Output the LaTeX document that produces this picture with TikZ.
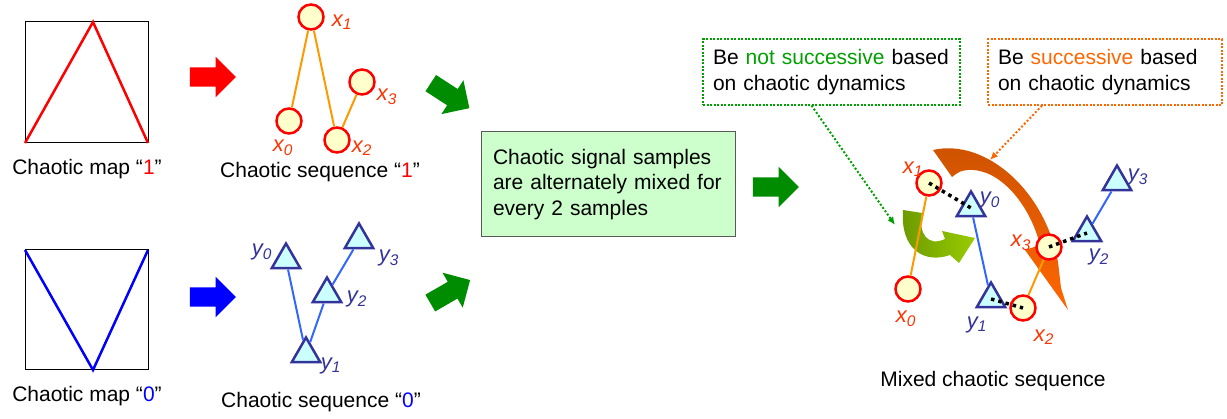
\documentclass[tikz,border=0pt]{standalone}
\usepackage{fontspec}
\setmainfont{Liberation Sans}
\usetikzlibrary{shapes.geometric, shapes.arrows, arrows.meta, positioning}

\definecolor{sampfill}{HTML}{FFFFCC}
\definecolor{tricyan}{HTML}{CCFFFF}
\definecolor{trinavy}{HTML}{333399}
\definecolor{xtext}{HTML}{FF3300}
\definecolor{xline}{HTML}{FF9900}
\definecolor{yline}{HTML}{3366FF}
\definecolor{mixgreen}{HTML}{008C00}
\definecolor{notgreen}{HTML}{00A000}
\definecolor{succorange}{HTML}{FF6600}
\definecolor{boxgreen}{HTML}{CCFFCC}
\definecolor{olivedark}{HTML}{6B9900}
\definecolor{olivelight}{HTML}{99CC00}

\begin{document}
\begin{tikzpicture}[
            x=1pt, y=-1pt,
            txt/.style = {font=\fontsize{21}{25.5}\selectfont, inner sep=0pt},
            xsamp/.style = {circle, draw=red, fill=sampfill, line width=2.5pt, minimum size=25pt, inner sep=0pt},
            ysamp/.style = {regular polygon, regular polygon sides=3, draw=trinavy, fill=tricyan, line width=2.5pt, minimum size=33pt, inner sep=0pt},
            xtag/.style = {text=xtext, font=\fontsize{22}{24}\selectfont\itshape, inner sep=0pt},
            ytag/.style = {text=trinavy, font=\fontsize{22}{24}\selectfont\itshape, inner sep=0pt},
            xlink/.style = {draw=xline, line width=2pt},
            ylink/.style = {draw=yline, line width=2pt},
            mixlink/.style = {draw=black, line width=3.5pt, dash pattern={on 3.5pt off 4pt}},
            fatarrow/.style = {single arrow, draw=none, inner xsep=0pt, inner ysep=9.5pt, minimum height=46pt, single arrow head extend=10.5pt},
            notebox/.style = {txt, draw, line width=2pt, dash pattern={on 2pt off 1.5pt}, inner sep=10pt, align=left},
        ]
            \useasboundingbox (0,0) rectangle (1227,419);

            % Chaotic maps
            \draw[line width=1pt] (25,22) rectangle (148,143);
            \draw[red, line width=2.5pt] (25,143) -- (93,22) -- (148,143);
            \node[txt] (map1) at (87,169) {Chaotic map “\textcolor{red}{1}”};

            \draw[line width=1pt] (25,250) rectangle (148,370);
            \draw[blue, line width=2.5pt] (25,250) -- (93,370) -- (148,250);
            \node[txt] (map0) at (87,396) {Chaotic map “\textcolor{blue}{0}”};

            % Block arrows
            \node[fatarrow, fill=red] (arr1) at (208,77) {};
            \node[fatarrow, fill=blue] (arr0) at (208,297) {};
            \node[fatarrow, fill=mixgreen, rotate=-33] (arrmix1) at (446,93) {};
            \node[fatarrow, fill=mixgreen, rotate=30] (arrmix0) at (446,294) {};
            \node[fatarrow, fill=mixgreen] (arrout) at (771,187) {};

            % Chaotic sequence "1"
            \node[xsamp] (x0) at (289,121) {};
            \node[xsamp] (x1) at (311,17) {};
            \node[xsamp] (x2) at (337,140) {};
            \node[xsamp] (x3) at (362,82) {};
            \draw[xlink] (x0) -- (x1);
            \draw[xlink] (x1) -- (x2);
            \draw[xlink] (x2) -- (x3);
            \node[xtag] (lx0) at (283,148) {x\textsubscript{0}};
            \node[xtag] (lx1) at (342,22) {x\textsubscript{1}};
            \node[xtag] (lx2) at (362,148) {x\textsubscript{2}};
            \node[xtag] (lx3) at (387,97) {x\textsubscript{3}};
            \node[txt] (seq1) at (320,172) {Chaotic sequence “\textcolor{red}{1}”};

            % Chaotic sequence "0"
            \node[ysamp] (y0) at (286,260) {};
            \node[ysamp] (y1) at (306,354) {};
            \node[ysamp] (y2) at (327,294) {};
            \node[ysamp] (y3) at (359,240) {};
            \draw[ylink] (y0) -- (y1);
            \draw[ylink] (y1) -- (y2);
            \draw[ylink] (y2) -- (y3);
            \node[ytag] (ly0) at (262,252) {y\textsubscript{0}};
            \node[ytag] (ly1) at (331,366) {y\textsubscript{1}};
            \node[ytag] (ly2) at (357,299) {y\textsubscript{2}};
            \node[ytag] (ly3) at (389,258) {y\textsubscript{3}};
            \node[txt] (seq0) at (321,402) {Chaotic sequence “\textcolor{blue}{0}”};

            % Mixing rule
            \node[txt, draw=black!65, line width=1pt, fill=boxgreen, minimum width=254pt, minimum height=105pt,
                  text width=230pt, align=left] (mixbox) at (608,184.5)
                 {Chaotic signal samples\\are alternately mixed for\\every 2 samples};

            % Notes
            \node[notebox, draw=notgreen, minimum width=257pt, minimum height=62pt, text width=237pt] (notbox) at (831.5,72)
                 {Be \textcolor{notgreen}{not successive} based\\on chaotic dynamics};
            \node[notebox, draw=succorange, minimum width=234pt, minimum height=62pt, text width=214pt] (succbox) at (1105,72)
                 {Be \textcolor{succorange}{successive} based\\on chaotic dynamics};

            \coordinate (notend) at (895,225);
            \coordinate (succend) at (990,160);
            \draw[notgreen, line width=2pt, dash pattern={on 2pt off 2pt}, -{Latex[length=8pt, width=7pt]}]
                 ([xshift=-20pt]notbox.south) -- (notend);
            \draw[succorange, line width=2pt, dash pattern={on 2pt off 2pt}, -{Latex[length=8pt, width=7pt]}]
                 ([xshift=-63pt]succbox.south) -- (succend);

            % Curved arrows of the mixed sequence
            \shade[left color=olivedark, right color=olivelight]
                 (903,210) .. controls (900,250) and (925,264) .. (950,255)
                 -- (959,263) -- (975,238) -- (942,231) -- (945,239)
                 .. controls (928,247) and (918,234) .. (922,213) -- cycle;
            \shade[top color=succorange!80!black, bottom color=succorange]
                 (933,150) .. controls (985,138) and (1045,190) .. (1058,262)
                 -- (1061,288) -- (1068,310) -- (1025,250) -- (1040,245)
                 .. controls (1030,205) and (1000,168) .. (968,170)
                 .. controls (960,171) .. (952,177) -- cycle;

            % Mixed chaotic sequence
            \node[xsamp] (mx1) at (929,183) {};
            \node[ysamp] (my0) at (971,208) {};
            \node[xsamp] (mx0) at (908,289) {};
            \node[ysamp] (my1) at (991,299) {};
            \node[xsamp] (mx2) at (1023,308) {};
            \node[xsamp] (mx3) at (1049,247) {};
            \node[ysamp] (my2) at (1087,233) {};
            \node[ysamp] (my3) at (1117,182) {};
            \draw[xlink] (mx0) -- (mx1);
            \draw[ylink] (my0) -- (my1);
            \draw[xlink] (mx2) -- (mx3);
            \draw[ylink] (my2) -- (my3);
            \draw[mixlink] (mx1.center) -- (my0.center);
            \draw[mixlink] (my1.center) -- (mx2.center);
            \draw[mixlink] (mx3.center) -- (my2.center);
            \node[xtag] (lmx0) at (906,319) {x\textsubscript{0}};
            \node[xtag] (lmx1) at (913,169) {x\textsubscript{1}};
            \node[xtag] (lmx2) at (1044,337) {x\textsubscript{2}};
            \node[xtag] (lmx3) at (1021,243) {x\textsubscript{3}};
            \node[ytag] (lmy0) at (990,200) {y\textsubscript{0}};
            \node[ytag] (lmy1) at (977,325) {y\textsubscript{1}};
            \node[ytag] (lmy2) at (1099,257) {y\textsubscript{2}};
            \node[ytag] (lmy3) at (1138,177) {y\textsubscript{3}};
            \node[txt] (mixseq) at (993,381) {Mixed chaotic sequence};

        \end{tikzpicture}
\end{document}
